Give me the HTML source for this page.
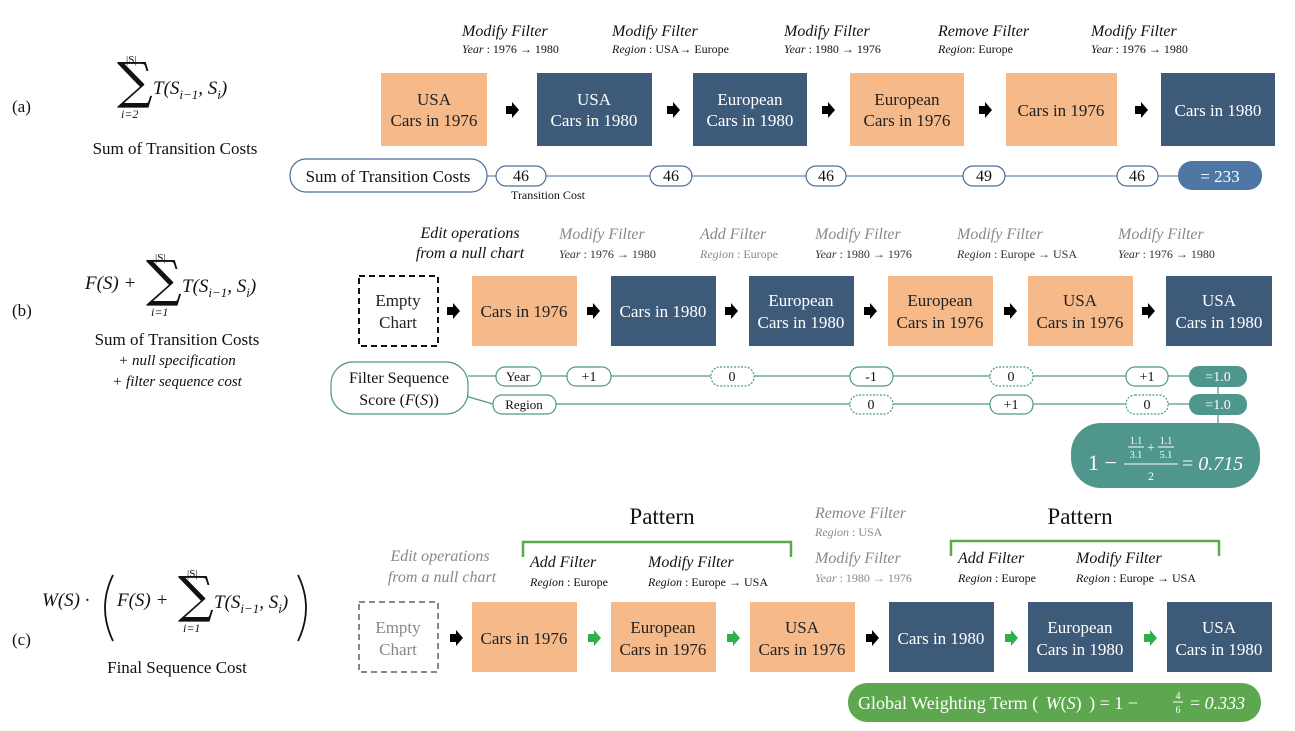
<!DOCTYPE html><html><head><meta charset="utf-8"><style>
body{margin:0;background:#fff}
svg{display:block;font-family:"Liberation Serif",serif}
.it{font-style:italic}
</style></head><body>
<svg width="1295" height="731" viewBox="0 0 1295 731" xmlns="http://www.w3.org/2000/svg">
<defs>
<g id="ab"><path d="M0,-4 H6 V-8 L13,0 L6,8 V4 H0Z" fill="#000"/></g>
<g id="ag"><path d="M0,-4 H6 V-8 L13,0 L6,8 V4 H0Z" fill="#2fb04a"/></g>
</defs>
<!-- LEFT formulas -->
<g font-size="17" fill="#111">
<text x="12" y="112">(a)</text>
<text x="12" y="316">(b)</text>
<text x="12" y="645">(c)</text>
<text x="126" y="63" font-size="11">|S|</text>
<text x="117" y="98" font-size="50" font-family="DejaVu Serif,serif">∑</text>
<text x="121" y="118" font-size="12" class="it">i=2</text>
<text x="153" y="94" font-size="19" class="it">T(S<tspan font-size="13" dy="5">i−1</tspan><tspan dy="-5">, S</tspan><tspan font-size="13" dy="5">i</tspan><tspan dy="-5">)</tspan></text>
<text x="175" y="154" text-anchor="middle">Sum of Transition Costs</text>

<text x="85" y="289" font-size="19" class="it">F(S) +</text>
<text x="155" y="261" font-size="11">|S|</text>
<text x="146" y="296" font-size="50" font-family="DejaVu Serif,serif">∑</text>
<text x="151" y="316" font-size="12" class="it">i=1</text>
<text x="182" y="292" font-size="19" class="it">T(S<tspan font-size="13" dy="5">i−1</tspan><tspan dy="-5">, S</tspan><tspan font-size="13" dy="5">i</tspan><tspan dy="-5">)</tspan></text>
<text x="177" y="345" text-anchor="middle">Sum of Transition Costs</text>
<text x="177" y="365" text-anchor="middle" font-size="15" class="it">+ null specification</text>
<text x="177" y="386" text-anchor="middle" font-size="15" class="it">+ filter sequence cost</text>

<text x="42" y="606" font-size="19" class="it">W(S) ·</text>
<path d="M113,575 Q97,608 113,641" fill="none" stroke="#111" stroke-width="1.8"/>
<text x="117" y="606" font-size="19" class="it">F(S) +</text>
<text x="187" y="577" font-size="11">|S|</text>
<text x="178" y="612" font-size="50" font-family="DejaVu Serif,serif">∑</text>
<text x="183" y="632" font-size="12" class="it">i=1</text>
<text x="214" y="608" font-size="19" class="it">T(S<tspan font-size="13" dy="5">i−1</tspan><tspan dy="-5">, S</tspan><tspan font-size="13" dy="5">i</tspan><tspan dy="-5">)</tspan></text>
<path d="M298,575 Q314,608 298,641" fill="none" stroke="#111" stroke-width="1.8"/>
<text x="177" y="673" text-anchor="middle">Final Sequence Cost</text>
</g>

<!-- ROW A -->
<g fill="#111">
<g font-size="16" class="it">
<text x="462" y="36">Modify Filter</text><text x="612" y="36">Modify Filter</text><text x="784" y="36">Modify Filter</text><text x="938" y="36">Remove Filter</text><text x="1091" y="36">Modify Filter</text></g>
<g font-size="12">
<text x="462" y="53"><tspan class="it">Year</tspan> : 1976 → 1980</text>
<text x="612" y="53"><tspan class="it">Region</tspan> : USA→ Europe</text>
<text x="784" y="53"><tspan class="it">Year</tspan> : 1980 → 1976</text>
<text x="938" y="53"><tspan class="it">Region</tspan>: Europe</text>
<text x="1091" y="53"><tspan class="it">Year</tspan> : 1976 → 1980</text></g>
</g>
<g font-size="17" text-anchor="middle">
<rect x="381" y="73" width="106" height="73" fill="#F6BA8A"/><text x="434" y="105" fill="#222">USA</text><text x="434" y="126" fill="#222">Cars in 1976</text>
<rect x="537" y="73" width="115" height="73" fill="#3E5A79"/><text x="594" y="105" fill="#fff">USA</text><text x="594" y="126" fill="#fff">Cars in 1980</text>
<rect x="693" y="73" width="114" height="73" fill="#3E5A79"/><text x="750" y="105" fill="#fff">European</text><text x="750" y="126" fill="#fff">Cars in 1980</text>
<rect x="850" y="73" width="114" height="73" fill="#F6BA8A"/><text x="907" y="105" fill="#222">European</text><text x="907" y="126" fill="#222">Cars in 1976</text>
<rect x="1006" y="73" width="111" height="73" fill="#F6BA8A"/><text x="1061" y="116" fill="#222">Cars in 1976</text>
<rect x="1161" y="73" width="114" height="73" fill="#3E5A79"/><text x="1218" y="116" fill="#fff">Cars in 1980</text>
</g>
<use href="#ab" x="506" y="110"/><use href="#ab" x="667" y="110"/><use href="#ab" x="822" y="110"/><use href="#ab" x="979" y="110"/><use href="#ab" x="1135" y="110"/>
<line x1="487" y1="176" x2="1180" y2="176" stroke="#4A6E9A" stroke-width="1"/>
<g fill="#fff" stroke="#4A6E9A" stroke-width="1.2">
<rect x="290" y="159" width="197" height="33" rx="16"/>
<rect x="496" y="166" width="50" height="20" rx="10"/><rect x="650" y="166" width="42" height="20" rx="10"/><rect x="806" y="166" width="40" height="20" rx="10"/><rect x="963" y="166" width="42" height="20" rx="10"/><rect x="1117" y="166" width="41" height="20" rx="10"/>
</g>
<rect x="1178" y="161" width="84" height="29" rx="14" fill="#4F77A6"/>
<g font-size="16" text-anchor="middle" fill="#111">
<text x="388" y="182" font-size="17">Sum of Transition Costs</text>
<text x="521" y="181">46</text><text x="671" y="181">46</text><text x="826" y="181">46</text><text x="984" y="181">49</text><text x="1137" y="181">46</text>
<text x="1220" y="182" fill="#fff" font-size="17">= 233</text>
<text x="548" y="199" font-size="12">Transition Cost</text>
</g>

<!-- ROW B -->
<g font-size="16" class="it" fill="#111">
<text x="470" y="238" text-anchor="middle">Edit operations</text><text x="470" y="258" text-anchor="middle">from a null chart</text></g>
<g font-size="16" class="it" fill="#888">
<text x="559" y="239">Modify Filter</text><text x="700" y="239">Add Filter</text><text x="815" y="239">Modify Filter</text><text x="957" y="239">Modify Filter</text><text x="1118" y="239">Modify Filter</text></g>
<g font-size="12" fill="#333">
<text x="559" y="258"><tspan class="it">Year</tspan> : 1976 → 1980</text>
<text x="700" y="258" fill="#888"><tspan class="it">Region</tspan> : Europe</text>
<text x="815" y="258"><tspan class="it">Year</tspan> : 1980 → 1976</text>
<text x="957" y="258"><tspan class="it">Region</tspan> : Europe → USA</text>
<text x="1118" y="258"><tspan class="it">Year</tspan> : 1976 → 1980</text></g>
<rect x="359" y="276" width="79" height="70" fill="none" stroke="#111" stroke-width="2" stroke-dasharray="6,4"/>
<g font-size="17" text-anchor="middle">
<text x="398" y="306" fill="#222">Empty</text><text x="398" y="328" fill="#222">Chart</text>
<rect x="472" y="276" width="105" height="70" fill="#F6BA8A"/><text x="524" y="317" fill="#222">Cars in 1976</text>
<rect x="611" y="276" width="105" height="70" fill="#3E5A79"/><text x="663" y="317" fill="#fff">Cars in 1980</text>
<rect x="749" y="276" width="105" height="70" fill="#3E5A79"/><text x="801" y="306" fill="#fff">European</text><text x="801" y="328" fill="#fff">Cars in 1980</text>
<rect x="888" y="276" width="105" height="70" fill="#F6BA8A"/><text x="940" y="306" fill="#222">European</text><text x="940" y="328" fill="#222">Cars in 1976</text>
<rect x="1028" y="276" width="105" height="70" fill="#F6BA8A"/><text x="1080" y="306" fill="#222">USA</text><text x="1080" y="328" fill="#222">Cars in 1976</text>
<rect x="1166" y="276" width="106" height="70" fill="#3E5A79"/><text x="1219" y="306" fill="#fff">USA</text><text x="1219" y="328" fill="#fff">Cars in 1980</text>
</g>
<use href="#ab" x="447" y="311"/><use href="#ab" x="587" y="311"/><use href="#ab" x="725" y="311"/><use href="#ab" x="864" y="311"/><use href="#ab" x="1004" y="311"/><use href="#ab" x="1142" y="311"/>
<g stroke="#4F968C" stroke-width="1.2" fill="none">
<line x1="468" y1="376" x2="1190" y2="376"/><line x1="556" y1="404" x2="1190" y2="404"/>
<line x1="455" y1="393" x2="493" y2="404"/>
<line x1="1218" y1="386" x2="1218" y2="395"/><line x1="1218" y1="413" x2="1218" y2="424"/>
</g>
<g fill="#fff" stroke="#4F968C" stroke-width="1.2">
<rect x="331" y="362" width="137" height="52" rx="22"/>
<rect x="496" y="367" width="45" height="19" rx="9"/><rect x="493" y="395" width="63" height="19" rx="9"/>
<rect x="567" y="367" width="44" height="19" rx="9"/><rect x="850" y="367" width="43" height="19" rx="9"/><rect x="1126" y="367" width="42" height="19" rx="9"/>
<rect x="990" y="395" width="43" height="19" rx="9"/>
</g>
<g fill="#fff" stroke="#4F968C" stroke-width="1.2" stroke-dasharray="2,1.5">
<rect x="711" y="367" width="43" height="19" rx="9"/><rect x="990" y="367" width="43" height="19" rx="9"/>
<rect x="850" y="395" width="43" height="19" rx="9"/><rect x="1126" y="395" width="42" height="19" rx="9"/>
</g>
<rect x="1189" y="366" width="58" height="21" rx="10" fill="#4F968C"/><rect x="1189" y="394" width="58" height="21" rx="10" fill="#4F968C"/>
<rect x="1071" y="423" width="189" height="65" rx="30" fill="#4F968C"/>
<g font-size="14" text-anchor="middle" fill="#111">
<text x="399" y="383" font-size="16">Filter Sequence</text><text x="399" y="405" font-size="16">Score (<tspan class="it">F</tspan>(<tspan class="it">S</tspan>))</text>
<text x="518" y="381" font-size="13">Year</text><text x="524" y="409" font-size="13">Region</text>
<text x="589" y="381">+1</text><text x="732" y="381">0</text><text x="871" y="381">-1</text><text x="1011" y="381">0</text><text x="1147" y="381">+1</text>
<text x="871" y="409">0</text><text x="1011" y="409">+1</text><text x="1147" y="409">0</text>
<text x="1218" y="381" fill="#fff">=1.0</text><text x="1218" y="409" fill="#fff">=1.0</text>
</g>
<g fill="#fff" font-size="20" text-anchor="middle">
<text x="1088" y="470" text-anchor="start" font-size="22">1 −</text>
<text x="1136" y="444" font-size="10">1.1</text><line x1="1128" y1="447" x2="1144" y2="447" stroke="#fff"/><text x="1136" y="458" font-size="10">3.1</text>
<text x="1151" y="452" font-size="14">+</text>
<text x="1166" y="444" font-size="10">1.1</text><line x1="1158" y1="447" x2="1174" y2="447" stroke="#fff"/><text x="1166" y="458" font-size="10">5.1</text>
<line x1="1124" y1="464" x2="1178" y2="464" stroke="#fff"/>
<text x="1151" y="480" font-size="12">2</text>
<text x="1182" y="470" text-anchor="start">= <tspan class="it">0.715</tspan></text>
</g>

<!-- ROW C -->
<g fill="#111">
<text x="662" y="524" font-size="23" text-anchor="middle">Pattern</text>
<text x="1080" y="524" font-size="23" text-anchor="middle">Pattern</text>
</g>
<g stroke="#5DA84E" stroke-width="2.5" fill="none">
<path d="M523,557 V542 H791 V557"/><path d="M951,556 V541 H1219 V556"/>
</g>
<g font-size="16" class="it" fill="#888">
<text x="440" y="561" text-anchor="middle">Edit operations</text><text x="442" y="582" text-anchor="middle">from a null chart</text>
<text x="815" y="518">Remove Filter</text><text x="815" y="563">Modify Filter</text></g>
<g font-size="12" fill="#888"><text x="815" y="536"><tspan class="it">Region</tspan> : USA</text><text x="815" y="582"><tspan class="it">Year</tspan> : 1980 → 1976</text></g>
<g font-size="16" class="it" fill="#111">
<text x="530" y="567">Add Filter</text><text x="648" y="567">Modify Filter</text>
<text x="958" y="563">Add Filter</text><text x="1076" y="563">Modify Filter</text></g>
<g font-size="12" fill="#111">
<text x="530" y="586"><tspan class="it">Region</tspan> : Europe</text><text x="648" y="586"><tspan class="it">Region</tspan> : Europe → USA</text>
<text x="958" y="582"><tspan class="it">Region</tspan> : Europe</text><text x="1076" y="582"><tspan class="it">Region</tspan> : Europe → USA</text></g>
<rect x="359" y="602" width="79" height="70" fill="none" stroke="#888" stroke-width="2" stroke-dasharray="6,4"/>
<g font-size="17" text-anchor="middle">
<text x="398" y="633" fill="#888">Empty</text><text x="398" y="655" fill="#888">Chart</text>
<rect x="472" y="602" width="105" height="70" fill="#F6BA8A"/><text x="524" y="644" fill="#222">Cars in 1976</text>
<rect x="611" y="602" width="105" height="70" fill="#F6BA8A"/><text x="663" y="633" fill="#222">European</text><text x="663" y="655" fill="#222">Cars in 1976</text>
<rect x="750" y="602" width="105" height="70" fill="#F6BA8A"/><text x="802" y="633" fill="#222">USA</text><text x="802" y="655" fill="#222">Cars in 1976</text>
<rect x="889" y="602" width="105" height="70" fill="#3E5A79"/><text x="941" y="644" fill="#fff">Cars in 1980</text>
<rect x="1028" y="602" width="105" height="70" fill="#3E5A79"/><text x="1080" y="633" fill="#fff">European</text><text x="1080" y="655" fill="#fff">Cars in 1980</text>
<rect x="1167" y="602" width="105" height="70" fill="#3E5A79"/><text x="1219" y="633" fill="#fff">USA</text><text x="1219" y="655" fill="#fff">Cars in 1980</text>
</g>
<use href="#ab" x="450" y="638"/><use href="#ag" x="588" y="638"/><use href="#ag" x="727" y="638"/><use href="#ab" x="866" y="638"/><use href="#ag" x="1005" y="638"/><use href="#ag" x="1144" y="638"/>
<rect x="848" y="683" width="413" height="39" rx="19" fill="#5DA84E"/>
<g fill="#fff" font-size="18">
<text x="858" y="709">Global Weighting Term ( <tspan class="it" dx="3">W</tspan>(<tspan class="it">S</tspan>) <tspan dx="3">) = 1 −</tspan></text>
<text x="1178" y="699" font-size="10" text-anchor="middle">4</text><line x1="1173" y1="702" x2="1183" y2="702" stroke="#fff"/><text x="1178" y="713" font-size="10" text-anchor="middle">6</text>
<text x="1190" y="709">= <tspan class="it">0.333</tspan></text>
</g>
</svg>
</body></html>
